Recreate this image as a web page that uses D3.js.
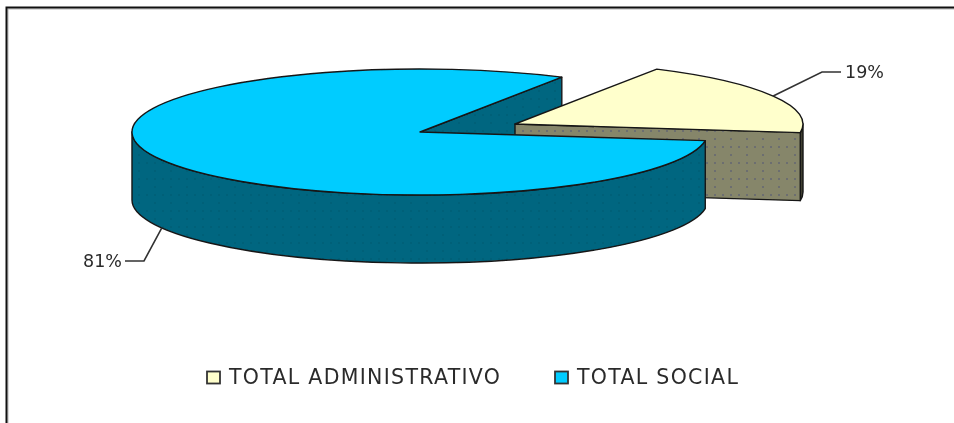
<!DOCTYPE html>
<html>
<head>
<meta charset="utf-8">
<script src="https://cdn.jsdelivr.net/npm/d3@7"></script>
<style>
  html, body { margin: 0; padding: 0; background: #fff; }
  svg { display: block; }
  text { font-family: "DejaVu Sans", sans-serif; fill: #2b2b2b; }
</style>
</head>
<body>
<div id="chart"></div>
<script>
// Values.
const categories = ["TOTAL ADMINISTRATIVO", "TOTAL SOCIAL"];
const values = [19, 81];
const topColors = ["#ffffcc", "#00ccff"];
const wallColors = ["#86866a", "#006680"];

const width = 954, height = 423;
const rx = 288, ry = 63, depth = 68;
// Centre of each slice, the small one is pulled out of the pie.
const centers = [{ x: 515, y: 124 }, { x: 420, y: 132 }];
const rotation = 29.5 * Math.PI / 180;

const svg = d3.select("#chart").append("svg")
  .attr("width", width)
  .attr("height", height)
  .attr("viewBox", [0, 0, width, height]);

const defs = svg.append("defs");
defs.append("filter").attr("id", "soft")
  .append("feGaussianBlur").attr("stdDeviation", 0.55);

// Dotted wall textures like the old bitmap had.
function addDots(id, base, dot) {
  const p = defs.append("pattern")
    .attr("id", id)
    .attr("patternUnits", "userSpaceOnUse")
    .attr("width", 16)
    .attr("height", 16);
  p.append("rect").attr("width", 16).attr("height", 16).attr("fill", base);
  [[2, 2], [10, 2], [10, 10]].forEach(([x, y]) => {
    p.append("rect")
      .attr("x", x)
      .attr("y", y)
      .attr("width", 2)
      .attr("height", 2)
      .attr("fill", dot);
  });
}
addDots("dotsAdmin", wallColors[0], "#6c6e70");
addDots("dotsSocial", wallColors[1], "#006078");

const slices = d3.pie()
  .sort(null)
  .startAngle(rotation)
  .endAngle(rotation + 2 * Math.PI)(values);

// Project a clockwise-from-top angle on the ellipse of slice i.
const pt = (i, a, dy = 0) => [
  centers[i].x + rx * Math.sin(a),
  centers[i].y - ry * Math.cos(a) + dy
];
const arcTo = (p, a0, a1, sweep = 1) =>
  `A${rx},${ry} 0 ${Math.abs(a1 - a0) > Math.PI ? 1 : 0} ${sweep} ${p[0]},${p[1]}`;

function topPath(i, s) {
  const c = centers[i];
  return `M${c.x},${c.y}L${pt(i, s.startAngle)}` +
    arcTo(pt(i, s.endAngle), s.startAngle, s.endAngle) + "Z";
}
// Outer wall between two angles.
function wallPath(i, a0, a1) {
  return `M${pt(i, a0)}` + arcTo(pt(i, a1), a0, a1) +
    `L${pt(i, a1, depth)}` + arcTo(pt(i, a0, depth), a1, a0, 0) + "Z";
}
// Flat cut wall from the centre to the rim at angle a.
function cutPath(i, a) {
  const c = centers[i];
  return `M${c.x},${c.y}L${pt(i, a)}L${pt(i, a, depth)}L${c.x},${c.y + depth}Z`;
}

const root = svg.append("g").attr("filter", "url(#soft)");

const stroke = "#161616";
const pie = root.append("g");
const add = (d, fill) => pie.append("path")
  .attr("d", d)
  .attr("fill", fill)
  .attr("stroke", stroke)
  .attr("stroke-width", 1.4)
  .attr("stroke-linejoin", "round");

const admin = slices[0], social = slices[1];

// Back to front: inside wall of the big slice, small slice, big slice.
add(cutPath(1, social.endAngle), "url(#dotsSocial)");
add(wallPath(0, Math.PI / 2, admin.endAngle), "#3f3f30");
add(cutPath(0, admin.endAngle), "url(#dotsAdmin)");
add(topPath(0, admin), topColors[0]);
add(wallPath(1, social.startAngle, 1.5 * Math.PI), "url(#dotsSocial)");
add(topPath(1, social), topColors[1]);

// Leader lines start from the middle of each slice.
const labelEnds = [
  { knee: [822, 72], end: [841, 72], x: 845, anchor: "start" },
  { knee: [144, 261], end: [125, 261], x: 122, anchor: "end" }
];
slices.forEach((s, i) => {
  const mid = (s.startAngle + s.endAngle) / 2;
  const start = pt(i, mid, i === 1 ? depth : 0);
  const l = labelEnds[i];
  root.append("path")
    .attr("d", d3.line()([start, l.knee, l.end]))
    .attr("fill", "none")
    .attr("stroke", "#333")
    .attr("stroke-width", 1.6);
  root.append("text")
    .attr("x", l.x)
    .attr("y", l.end[1])
    .attr("dy", "0.36em")
    .attr("text-anchor", l.anchor)
    .attr("font-size", 17.5)
    .text(`${s.value}%`);
});

// Legend.
const legendX = d3.scaleOrdinal().domain(categories).range([207, 555]);
const legend = root.append("g").selectAll("g")
  .data(categories)
  .join("g")
  .attr("transform", d => `translate(${legendX(d)},377)`);
legend.append("rect")
  .attr("x", 0)
  .attr("y", -5.5)
  .attr("width", 13)
  .attr("height", 12)
  .attr("fill", (d, i) => topColors[i])
  .attr("stroke", "#333")
  .attr("stroke-width", 1.8);
legend.append("text")
  .attr("x", 22)
  .attr("dy", "0.36em")
  .attr("font-size", 20.5)
  .attr("letter-spacing", 1.3)
  .text(d => d);

// Frame, only top and left like the reference, with a grey edge inside.
const frame = (offset, colour, w) => svg.append("path")
  .attr("d", d3.line()([[6.5 + offset, height], [6.5 + offset, 7.5 + offset], [width, 7.5 + offset]]))
  .attr("fill", "none")
  .attr("stroke", colour)
  .attr("stroke-width", w);
frame(1.5, "#b5b5b5", 1);
frame(0, "#111", 2);
</script>
</body>
</html>
